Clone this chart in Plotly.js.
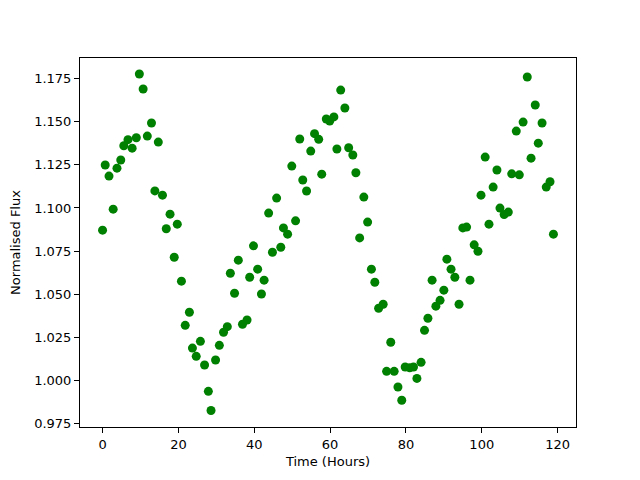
<!DOCTYPE html>
<html>
<head>
<meta charset="utf-8">
<script src="https://cdn.plot.ly/plotly-3.0.1.min.js"></script>
<style>html,body{margin:0;padding:0;background:#fff;}</style>
</head>
<body>
<div id="chart" style="width:640px;height:480px;"></div>
<script>
const timeHours = [0.0,0.7,1.7,2.8,3.8,4.8,5.6,6.7,7.8,8.9,9.7,10.7,11.8,12.9,13.8,14.7,15.8,16.8,17.8,18.9,19.7,20.8,21.8,22.9,23.7,24.7,25.8,26.9,27.9,28.6,29.8,30.8,31.9,32.9,33.7,34.8,35.8,36.9,38.1,38.8,39.8,40.9,41.9,42.6,43.8,44.8,45.9,47.0,47.7,48.8,49.9,50.9,52.0,52.8,53.8,54.9,55.9,57.0,57.8,59.0,59.9,61.0,61.8,62.8,63.9,64.9,66.0,66.8,67.8,68.9,69.9,70.9,71.8,72.8,74.0,74.9,76.0,76.9,77.9,78.9,79.8,81.0,82.0,82.9,84.0,84.9,85.8,86.9,87.9,89.0,90.0,90.8,91.9,92.9,94.0,95.0,96.0,96.9,98.0,99.0,99.8,100.9,101.9,103.0,104.0,104.8,105.9,107.0,107.9,109.1,109.9,110.9,112.0,113.0,114.1,114.9,115.9,117.0,118.0,118.9];
const normalisedFlux = [1.0871,1.1249,1.1185,1.0993,1.1231,1.1278,1.1361,1.1396,1.1347,1.1407,1.1777,1.1690,1.1417,1.1493,1.1099,1.1382,1.1074,1.0879,1.0964,1.0714,1.0906,1.0575,1.0319,1.0395,1.0187,1.0139,1.0226,1.0089,0.9936,0.9825,1.0118,1.0203,1.0279,1.0311,1.0621,1.0505,1.0697,1.0325,1.0350,1.0598,1.0780,1.0645,1.0501,1.0581,1.0970,1.0743,1.1057,1.0772,1.0884,1.0848,1.1243,1.0925,1.1400,1.1162,1.1098,1.1330,1.1431,1.1398,1.1196,1.1516,1.1504,1.1528,1.1342,1.1684,1.1580,1.1349,1.1307,1.1204,1.0826,1.1063,1.0918,1.0645,1.0569,1.0418,1.0441,1.0052,1.0221,1.0052,0.9961,0.9884,1.0077,1.0073,1.0077,1.0011,1.0104,1.0290,1.0360,1.0581,1.0430,1.0464,1.0523,1.0703,1.0645,1.0598,1.0441,1.0884,1.0889,1.0581,1.0786,1.0749,1.1074,1.1295,1.0906,1.1121,1.1220,1.0999,1.0962,1.0976,1.1198,1.1446,1.1192,1.1498,1.1760,1.1289,1.1597,1.1376,1.1493,1.1121,1.1152,1.0848];
const xTitle = "Time (Hours)";
const yTitle = "Normalised Flux";

const font = {family: "DejaVu Sans", size: 13, color: "#000"};
const trace = {
  x: timeHours, y: normalisedFlux, type: "scatter", mode: "markers",
  marker: {color: "#008000", size: 9, line: {width: 0}}
};
const axisCommon = {
  showgrid: false, zeroline: false, showline: true, mirror: true,
  linecolor: "#000", linewidth: 1, ticks: "outside", ticklen: 5, tickwidth: 1,
  tickcolor: "#000", tickfont: font
};
const layout = {
  width: 640, height: 480,
  margin: {l: 80, r: 64, t: 58, b: 53},
  paper_bgcolor: "#fff", plot_bgcolor: "#fff",
  showlegend: false,
  font: font,
  xaxis: Object.assign({}, axisCommon, {
    range: [-5.95, 124.85], tick0: 0, dtick: 20,
    title: {text: xTitle, font: font, standoff: 6}
  }),
  yaxis: Object.assign({}, axisCommon, {
    range: [0.9729, 1.1870], tick0: 0.975, dtick: 0.025, tickformat: ".3f",
    title: {text: yTitle, font: font, standoff: 10}
  })
};
Plotly.newPlot("chart", [trace], layout, {staticPlot: true, displayModeBar: false});
</script>
</body>
</html>
